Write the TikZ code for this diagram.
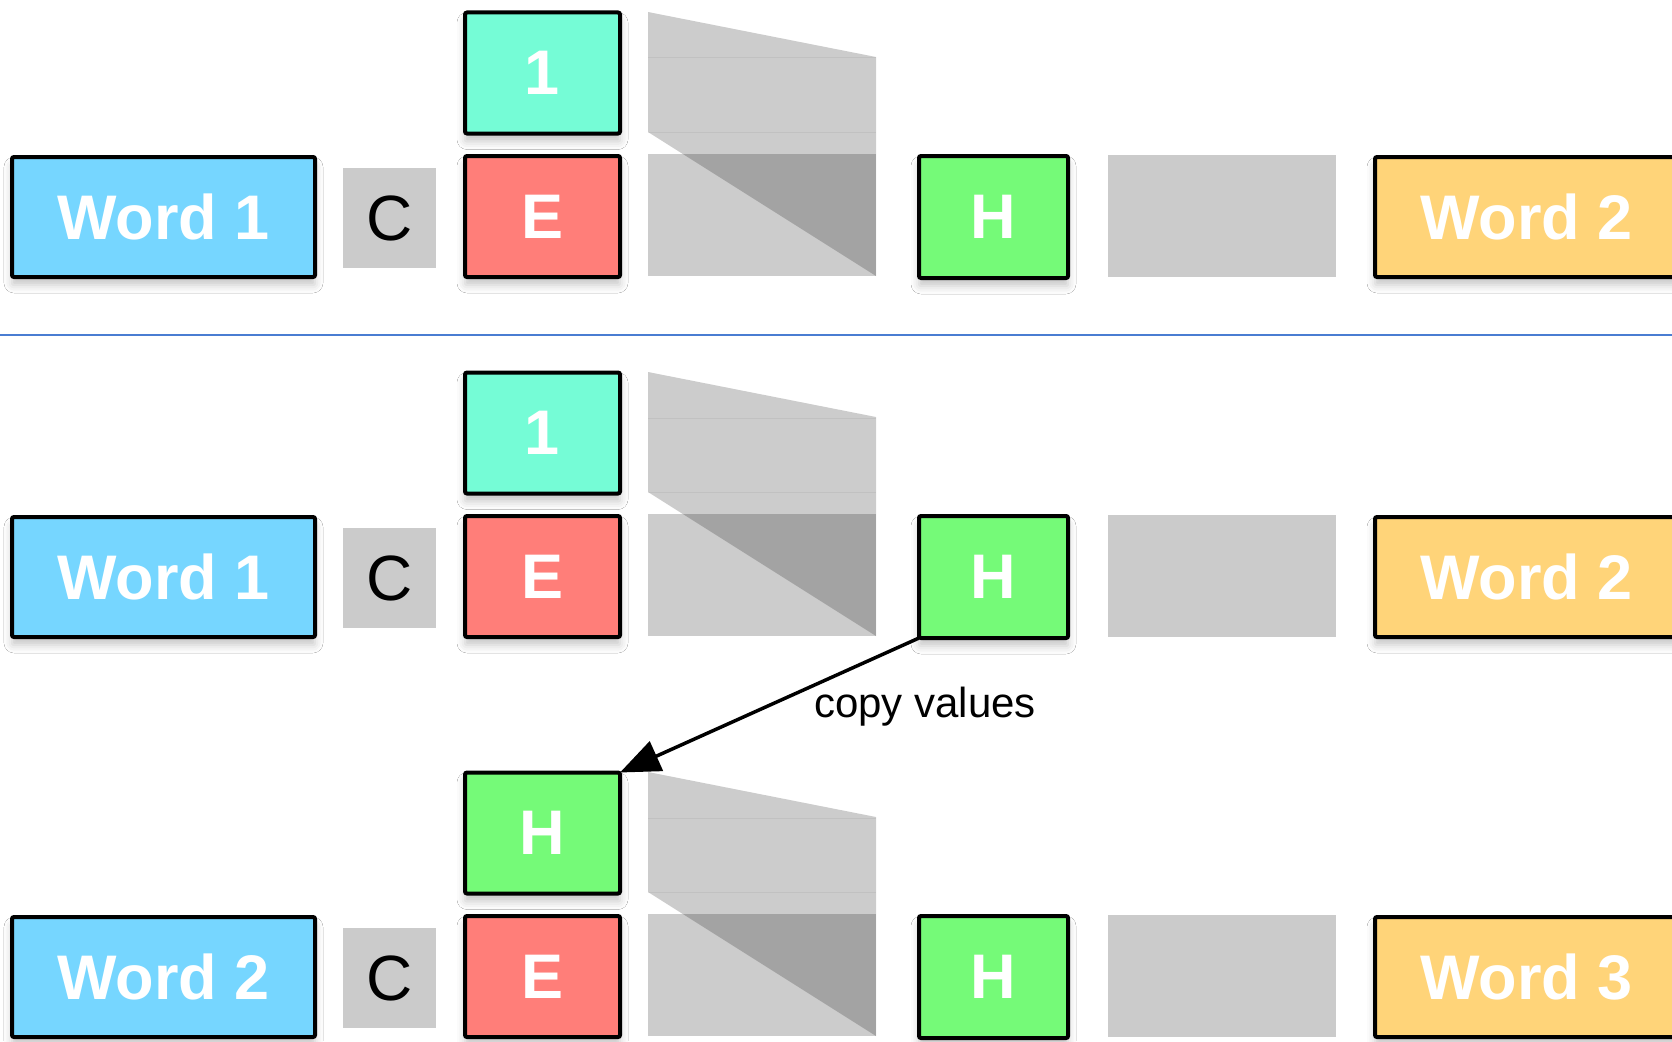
\documentclass[tikz,border=0pt]{standalone}
\usepackage{fontspec}
\setmainfont{Liberation Sans}
\usetikzlibrary{arrows.meta,shadows.blur}
\definecolor{cword}{HTML}{76D6FF}
\definecolor{cmint}{HTML}{75FCD6}
\definecolor{csalmon}{HTML}{FF7E79}
\definecolor{cgreen}{HTML}{75FA78}
\definecolor{corange}{HTML}{FFD479}
\definecolor{cgray}{HTML}{CBCBCB}
\definecolor{cline}{HTML}{4A7DD2}
\tikzset{
  box/.style={draw=black, line width=4pt, rounded corners=2pt, inner sep=0pt, outer sep=0pt,
    text=white, font=\bfseries\fontsize{63}{63}\selectfont,
    blur shadow={shadow xshift=0pt, shadow yshift=-8pt, shadow blur radius=8pt, shadow opacity=22}},
  wordbox/.style={box, minimum width=303pt, minimum height=120pt},
  sqbox/.style={box, minimum width=155pt, minimum height=121pt},
  hbox/.style={box, fill=cgreen, minimum width=149pt, minimum height=122pt},
  cbox/.style={fill=cgray, inner sep=0pt, minimum width=93pt, minimum height=100pt,
    font=\fontsize{64}{64}\selectfont, text=black},
  grayrect/.style={fill=cgray, inner sep=0pt, minimum width=228pt, minimum height=122pt},
  proj/.style={fill=black, fill opacity=0.2},
  faint/.style={draw=black, draw opacity=0.05, line width=1pt},
  copyarrow/.style={line width=3.5pt, -{Triangle[length=40pt,width=32pt]}},
  lbl/.style={font=\fontsize{42}{42}\selectfont, text=black, inner sep=0pt}
}
\begin{document}
\begin{tikzpicture}[x=1pt,y=-1pt]
\useasboundingbox (0,0) rectangle (1672,1041);
\clip (0,0) rectangle (1672,1041);
\fill[white] (0,0) rectangle (1672,1041);
\foreach \r/\dy/\wl/\wr/\tt/\tc in {a/0/Word 1/Word 2/1/cmint, b/360/Word 1/Word 2/1/cmint, c/760/Word 2/Word 3/H/cgreen} {
  % projection shapes
  \fill[proj] (648,12+\dy) -- (876,57+\dy) -- (876,276+\dy) -- (648,132+\dy) -- cycle;
  \fill[proj] (648,154+\dy) rectangle (876,276+\dy);
  \draw[faint] (648,58+\dy) -- (876,58+\dy);
  \draw[faint] (648,132+\dy) -- (876,132+\dy);
  % boxes
  \node[wordbox, fill=cword] (wl\r) at (163.5,217+\dy) {\wl};
  \node[cbox] (c\r) at (389.5,218+\dy) {C};
  \node[sqbox, fill=\tc] (t\r) at (542.5,73+\dy) {\tt};
  \node[sqbox, fill=csalmon] (e\r) at (542.5,216.5+\dy) {E};
  \node[hbox] (h\r) at (993.5,217+\dy) {H};
  \node[grayrect] (g\r) at (1222,215.5+\dy) {};
  \node[wordbox, fill=corange] (wr\r) at (1526.5,217+\dy) {\wr};
}
\draw[cline, line width=1.5pt] (0,335) -- (1672,335);
\draw[copyarrow] (hb.south west) -- (tc.north east);
\node[lbl] (cv) at (925,707) {copy values};
\end{tikzpicture}
\end{document}
